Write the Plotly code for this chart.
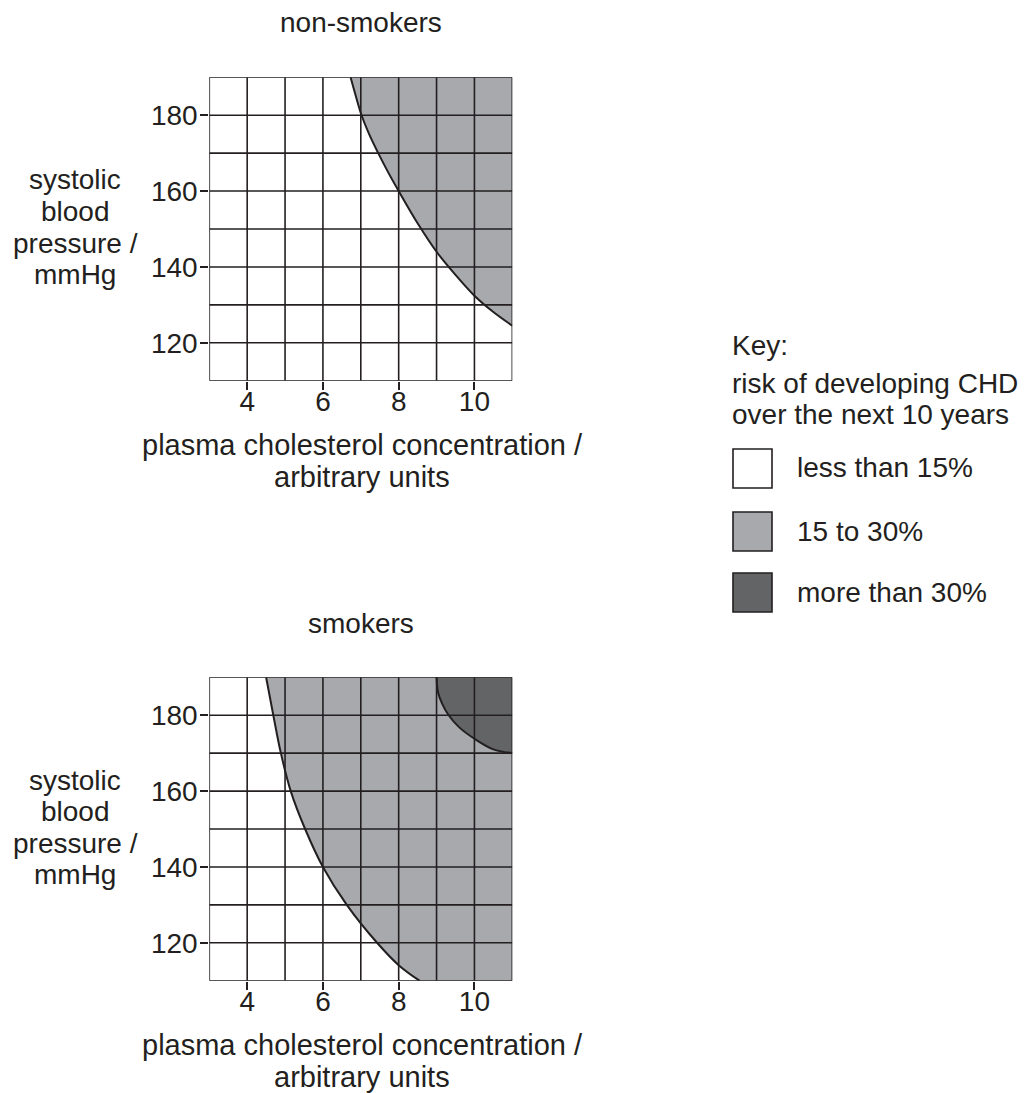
import numpy as np
import plotly.graph_objects as go

# ---------------- data ----------------
x_ticks = [4, 6, 8, 10]
y_ticks = [120, 140, 160, 180]
x_range = [3, 11]
y_range = [110, 190]

# non-smokers: boundary between <15% and 15-30%
ns_curve_x = [6.73, 6.87, 7.02, 7.22, 7.46, 7.72, 8.0, 8.5, 9.0, 9.5, 10.0, 10.5, 11.0]
ns_curve_y = [190, 185, 180, 175, 170, 165, 160, 151.5, 144, 137.9, 132.4, 128.1, 124.5]

# smokers: boundary between <15% and 15-30%
sm_low_x = [4.5, 4.69, 4.89, 5.15, 5.53, 6.0, 6.63, 7.43, 8.0, 8.55]
sm_low_y = [190, 180, 170, 160, 150, 140, 130, 120, 114.1, 110]

# smokers: boundary between 15-30% and >30%
sm_high_x = [9.0, 9.04, 9.15, 9.32, 9.6, 10.0, 10.5, 11.0]
sm_high_y = [190, 186, 183, 180, 176.8, 173.8, 171, 170]

key_labels = ["less than 15%", "15 to 30%", "more than 30%"]
key_title = ["Key:", "risk of developing CHD", "over the next 10 years"]
y_title_lines = ["systolic", "blood", "pressure /", "mmHg"]
x_title_lines = ["plasma cholesterol concentration /", "arbitrary units"]
panel_titles = ["non-smokers", "smokers"]

# ---------------- style ----------------
W, H = 1030, 1093
PAGE_OFF = 8  # default page margin of the html body
FONT = "Liberation Sans, Arial, sans-serif"
INK = "#231f20"
LIGHT = "#a7a9ac"
DARK = "#636466"
key_colors = ["#ffffff", LIGHT, DARK]
FS = 28


def px(p):
    return (p - PAGE_OFF) / W


def py(p):
    return 1 - (p - PAGE_OFF) / H


fig = go.Figure()


def add_panel(xa, ya, fills, curves):
    # filled regions
    for cx, cy, col in fills:
        fig.add_trace(go.Scatter(x=cx, y=cy, mode="lines", fill="toself",
                                 fillcolor=col, line=dict(width=0, color=col),
                                 xaxis=xa, yaxis=ya, hoverinfo="skip",
                                 showlegend=False))
    # grid (drawn above the fills)
    gx, gy = [], []
    for xv in np.arange(x_range[0], x_range[1] + 1, 1):
        gx += [xv, xv, None]
        gy += [y_range[0], y_range[1], None]
    for yv in np.arange(y_range[0], y_range[1] + 10, 10):
        gx += [x_range[0], x_range[1], None]
        gy += [yv, yv, None]
    fig.add_trace(go.Scatter(x=gx, y=gy, mode="lines",
                             line=dict(width=1.6, color=INK),
                             xaxis=xa, yaxis=ya, hoverinfo="skip",
                             showlegend=False))
    # boundary curves
    for cx, cy in curves:
        fig.add_trace(go.Scatter(x=cx, y=cy, mode="lines",
                                 line=dict(width=2, color=INK, shape="spline", smoothing=1.0),
                                 xaxis=xa, yaxis=ya, hoverinfo="skip",
                                 showlegend=False))


# top panel: non-smokers
add_panel("x", "y",
          [(ns_curve_x + [x_range[1]], ns_curve_y + [y_range[1]], LIGHT)],
          [(ns_curve_x, ns_curve_y)])

# bottom panel: smokers
add_panel("x2", "y2",
          [(sm_low_x + [x_range[1], x_range[1]], sm_low_y + [y_range[0], y_range[1]], LIGHT),
           (sm_high_x + [x_range[1]], sm_high_y + [y_range[1]], DARK)],
          [(sm_low_x, sm_low_y), (sm_high_x, sm_high_y)])

axis_common = dict(showgrid=False, zeroline=False, showline=False,
                   ticks="outside", ticklen=8, tickwidth=2, tickcolor=INK,
                   tickfont=dict(family=FONT, size=FS, color=INK), fixedrange=True)

x_dom = [px(209.3), px(512.3)]
top_dom = [py(380.7), py(77.3)]
bot_dom = [py(980.7), py(677.3)]

xa = dict(range=x_range, tickvals=x_ticks, ticklabelstandoff=-12, **axis_common)
ya = dict(range=y_range, tickvals=y_ticks, ticklabelstandoff=-3, **axis_common)

fig.update_layout(
    width=W, height=H,
    margin=dict(l=0, r=0, t=0, b=0),
    paper_bgcolor="white", plot_bgcolor="white",
    font=dict(family=FONT, size=FS, color=INK),
    showlegend=False,
    xaxis=dict(domain=x_dom, anchor="y", **xa),
    yaxis=dict(domain=top_dom, anchor="x", **ya),
    xaxis2=dict(domain=x_dom, anchor="y2", **xa),
    yaxis2=dict(domain=bot_dom, anchor="x2", **ya),
)

ann = []


def text(t, x, y, xanchor="center", size=FS):
    ann.append(dict(text=t, x=px(x), y=py(y), xref="paper", yref="paper",
                    xanchor=xanchor, yanchor="middle", showarrow=False,
                    font=dict(family=FONT, size=size, color=INK)))


# panel titles
text(panel_titles[0], 361, 22)
text(panel_titles[1], 361, 623)

# y-axis titles (one annotation per line)
for off in (0, 600):
    for i, t in enumerate(y_title_lines):
        text(t, 75, 180 + off + i * 31.5)

# x-axis titles
for off in (0, 600):
    for i, t in enumerate(x_title_lines):
        text(t, 362, 445 + off + i * 31.5, size=29)

# key
for i, (t, yy) in enumerate(zip(key_title, [346, 384, 414])):
    text(t, 730, yy, xanchor="left")

shapes = []
for i, (lab, col) in enumerate(zip(key_labels, key_colors)):
    top = [449, 512, 573][i]
    shapes.append(dict(type="rect", xref="paper", yref="paper",
                       x0=px(733), x1=px(772), y0=py(top + 39), y1=py(top),
                       fillcolor=col, line=dict(color=INK, width=1.6)))
    text(lab, 795, top + 19, xanchor="left")

fig.update_layout(annotations=ann, shapes=shapes)

fig.write_html("out.html")
